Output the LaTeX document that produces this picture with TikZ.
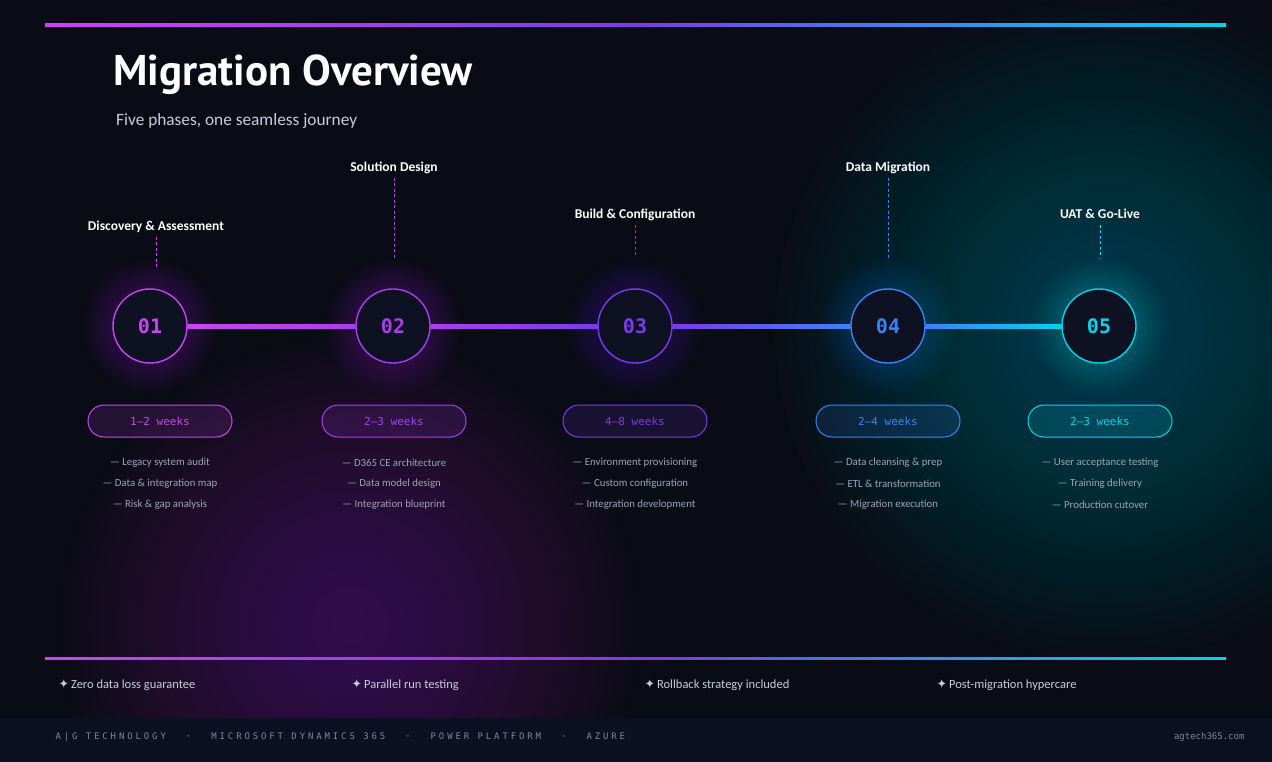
\documentclass[tikz,border=0pt]{standalone}
\usepackage{fontspec}
\setmainfont{Carlito}
\newfontfamily\headfont{PT Sans}
\newfontfamily\monofont{DejaVu Sans Mono}
\newfontfamily\symfont{DejaVu Sans}
\usetikzlibrary{calc}
\definecolor{bg}{RGB}{10,12,21}
\definecolor{band}{RGB}{13,16,32}
\definecolor{disc}{RGB}{14,17,34}
\definecolor{ph1}{RGB}{200,70,240}
\definecolor{ph2}{RGB}{168,62,240}
\definecolor{ph3}{RGB}{124,58,237}
\definecolor{ph4}{RGB}{59,130,246}
\definecolor{ph5}{RGB}{0,212,236}
\definecolor{muted}{RGB}{158,163,182}
\definecolor{soft}{RGB}{200,204,218}
\definecolor{foot}{RGB}{128,134,156}

\begin{document}
\begin{tikzpicture}[x=1pt,y=-1pt,
    glow/.style={fill=#1, fill opacity=.013},
    ring/.style={fill=#1, fill opacity=.014},
    disc/.style={circle, minimum size=74pt, inner sep=0pt, fill=disc, draw=#1,
      line width=1.4pt, text=#1, font=\monofont\bfseries\fontsize{20}{20}\selectfont},
    pill/.style={rounded corners=16pt, minimum width=144pt, minimum height=32pt,
      draw=#1, line width=1pt, fill=#1, fill opacity=.14, text opacity=1, text=#1,
      font=\monofont\fontsize{11}{11}\selectfont},
    phase/.style={text=white, text height=9.5pt, text depth=3pt,
      font=\bfseries\fontsize{13.5}{15}\selectfont},
    tick/.style={draw=#1, line width=.8pt, dash pattern=on 3pt off 2.5pt},
    item/.style={text=muted, font=\fontsize{10.8}{12}\selectfont},
    feat/.style={anchor=west, text=soft, font=\fontsize{12.5}{14}\selectfont}]
  \useasboundingbox (0,0) rectangle (1272,762);
  \fill[bg] (0,0) rectangle (1272,762);

  % background glows
  \foreach \k in {1,...,30}{
    \fill[glow=ph1] (350,625) circle ({290*\k/30});
    \fill[glow=ph5] (1105,330) circle ({330*\k/30});
  }

  % top rule
  \shade[left color=ph1, right color=ph5, middle color=ph3] (45,23.5) rectangle (1226,26.5);

  \node[anchor=base west, inner sep=0pt, text=white,
    font=\headfont\bfseries\fontsize{43}{45}\selectfont] (title) at (113,86) {Migration Overview};
  \node[anchor=base west, inner sep=0pt, text=soft,
    font=\fontsize{17.3}{19}\selectfont] (sub) at (116,126) {Five phases, one seamless journey};

  % phases
  \foreach \i/\cx/\lx/\ly/\ty/\px/\lbl/\wk/\ia/\ib/\ic in {
    1/150/156/227/268/160/{Discovery \& Assessment}/{1–2 weeks}/{Legacy system audit}/{Data \& integration map}/{Risk \& gap analysis},
    2/393/394/168/258/394/{Solution Design}/{2–3 weeks}/{D365 CE architecture}/{Data model design}/{Integration blueprint},
    3/635/635/215/257/635/{Build \& Configuration}/{4–8 weeks}/{Environment provisioning}/{Custom configuration}/{Integration development},
    4/888/888/168/258/888/{Data Migration}/{2–4 weeks}/{Data cleansing \& prep}/{ETL \& transformation}/{Migration execution},
    5/1099/1100/215/258/1100/{UAT \& Go-Live}/{2–3 weeks}/{User acceptance testing}/{Training delivery}/{Production cutover}}{
    \foreach \k in {1,...,14}
      \fill[ring=ph\i] (\cx,326) circle ({38+30*\k/14});
    \node[disc=ph\i] (c\i) at (\cx,326) {0\i};
    \node[phase] (l\i) at (\lx,\ly) {\lbl};
    \coordinate (t\i) at (\lx,\ty);
    \draw[tick=ph\i] (l\i) -- (t\i);
    \node[pill=ph\i] (d\i) at (\px,421) {\wk};
    \node[item] (a\i) at (\px,463) {— \ia};
    \node[item] (b\i) at (\px,484) {— \ib};
    \node[item] (e\i) at (\px,505) {— \ic};
  }
  \foreach \a/\b in {1/2,2/3,3/4,4/5}
    \shade[left color=ph\a, right color=ph\b] ($(c\a.east)+(0,-2)$) rectangle ($(c\b.west)+(0,2)$);

  % bottom rule and highlights
  \shade[left color=ph1, right color=ph5, middle color=ph3] (45,657) rectangle (1226,659);
  \foreach \x/\t [count=\k] in {55/Zero data loss guarantee, 348/Parallel run testing,
      641/Rollback strategy included, 933/Post-migration hypercare}
    \node[feat] (f\k) at (\x,685) {{\symfont ✦}\,\t};

  % footer
  \fill[band] (0,718) rectangle (1272,762);
  \node[anchor=west, text=foot, font=\monofont\fontsize{9}{9}\selectfont\addfontfeature{LetterSpace=32}]
    (brand) at (52,737) {A|G TECHNOLOGY\hspace{20pt}·\hspace{20pt}MICROSOFT DYNAMICS 365\hspace{20pt}·\hspace{20pt}POWER PLATFORM\hspace{20pt}·\hspace{20pt}AZURE};
  \node[anchor=east, text=foot, font=\monofont\fontsize{9}{9}\selectfont] (site) at (1248,737) {agtech365.com};
\end{tikzpicture}
\end{document}
